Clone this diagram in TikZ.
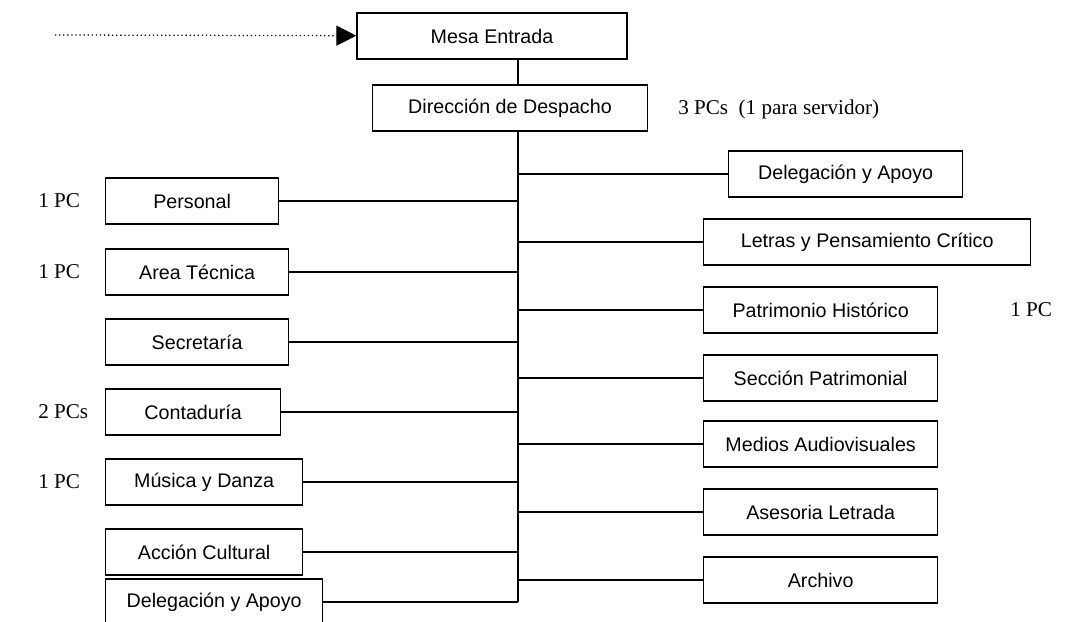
\documentclass[tikz,border=0pt]{standalone}
\usepackage{fontspec}
\setmainfont{Liberation Serif}
\setsansfont{Liberation Sans}
\usetikzlibrary{arrows.meta}

\begin{document}
\begin{tikzpicture}[x=0.025cm, y=-0.025cm,
    caja/.style={draw, line width=0.9pt, minimum height=1.15cm, inner sep=0pt, font=\sffamily\fontsize{14}{16}\selectfont},
    nota/.style={anchor=west, inner sep=0pt, font=\fontsize{15}{17}\selectfont},
    rama/.style={line width=0.9pt}]

      \useasboundingbox (0,0) rectangle (1083,621);

      \node[caja, minimum width=6.75cm] (mesa) at (492,36) {Mesa Entrada};
      \node[caja, minimum width=6.875cm] (despacho) at (510,108) {Dirección de Despacho};
      \node[nota] (pcdespacho) at (678,109) {3 PCs\ \ (1 para servidor)};
      \coordinate (entrada) at (55,35);
      \coordinate (tronco) at (518,0);

      % lado izquierdo
      \node[caja, anchor=west, minimum width=4.325cm] (personal) at (105,201) {Personal};
      \node[caja, anchor=west, minimum width=4.575cm] (tecnica) at (105,272) {Area Técnica};
      \node[caja, anchor=west, minimum width=4.575cm] (secretaria) at (105,342) {Secretaría};
      \node[caja, anchor=west, minimum width=4.375cm] (contaduria) at (105,412) {Contaduría};
      \node[caja, anchor=west, minimum width=4.925cm] (musica) at (105,482) {Música y Danza};
      \node[caja, anchor=west, minimum width=4.925cm] (accion) at (105,552) {Acción Cultural};
      \node[caja, anchor=west, minimum width=5.425cm] (delegizq) at (105,602) {Delegación y Apoyo};

      \node[nota] (pcpersonal) at (38,201) {1 PC};
      \node[nota] (pctecnica) at (38,272) {1 PC};
      \node[nota] (pccontaduria) at (38,412) {2 PCs};
      \node[nota] (pcmusica) at (38,482) {1 PC};

      % lado derecho
      \node[caja, anchor=west, minimum width=5.85cm] (delegder) at (728,174) {Delegación y Apoyo};
      \node[caja, anchor=west, minimum width=8.175cm] (letras) at (703,242) {Letras y Pensamiento Crítico};
      \node[caja, anchor=west, minimum width=5.85cm] (patrimonio) at (703,310) {Patrimonio Histórico};
      \node[caja, anchor=west, minimum width=5.85cm] (seccion) at (703,378) {Sección Patrimonial};
      \node[caja, anchor=west, minimum width=5.85cm] (medios) at (703,444) {Medios Audiovisuales};
      \node[caja, anchor=west, minimum width=5.85cm] (asesoria) at (703,512) {Asesoria Letrada};
      \node[caja, anchor=west, minimum width=5.85cm] (archivo) at (703,580) {Archivo};

      \node[nota] (pcpatrimonio) at (1010,310) {1 PC};

      \draw[rama, dotted, -{Triangle[length=5mm, width=5mm]}] (entrada) -- (mesa);
      \draw[rama] (mesa.south -| tronco) -- (despacho.north -| tronco);
      \draw[rama] (despacho.south -| tronco) -- (delegizq.east -| tronco);

      \draw[rama] (personal) -- (personal -| tronco);
      \draw[rama] (tecnica) -- (tecnica -| tronco);
      \draw[rama] (secretaria) -- (secretaria -| tronco);
      \draw[rama] (contaduria) -- (contaduria -| tronco);
      \draw[rama] (musica) -- (musica -| tronco);
      \draw[rama] (accion) -- (accion -| tronco);
      \draw[rama] (delegizq) -- (delegizq -| tronco);

      \draw[rama] (delegder -| tronco) -- (delegder);
      \draw[rama] (letras -| tronco) -- (letras);
      \draw[rama] (patrimonio -| tronco) -- (patrimonio);
      \draw[rama] (seccion -| tronco) -- (seccion);
      \draw[rama] (medios -| tronco) -- (medios);
      \draw[rama] (asesoria -| tronco) -- (asesoria);
      \draw[rama] (archivo -| tronco) -- (archivo);

\end{tikzpicture}
\end{document}
